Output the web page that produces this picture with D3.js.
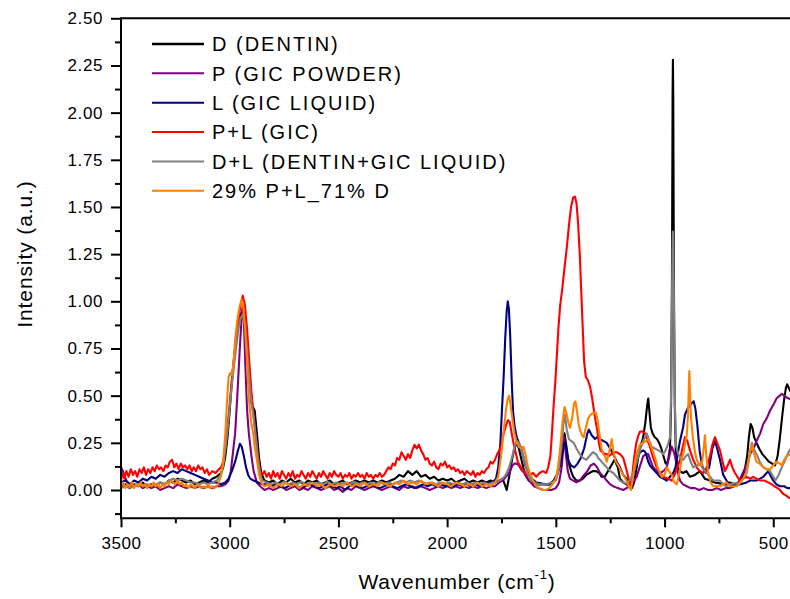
<!DOCTYPE html>
<html>
<head>
<meta charset="utf-8">
<script src="https://cdn.jsdelivr.net/npm/d3@7"></script>
<style>
  body { margin: 0; background: #fff; }
  svg { display: block; font-family: "Liberation Sans", Arial, Helvetica, sans-serif; }
</style>
</head>
<body>
<div id="chart"></div>
<script>
// spectra, [wavenumber (cm-1), intensity (a.u.)]
const dentin = [
  [3500,0.02],[3480,0.03],[3460,0.01],[3440,0.03],[3420,0.02],[3400,0.04],[3380,0.02],[3360,0.03],[3340,0.02],[3320,0.04],
  [3300,0.03],[3280,0.05],[3260,0.04],[3240,0.06],[3220,0.05],[3200,0.04],[3180,0.05],[3160,0.03],[3140,0.04],[3120,0.05],
  [3100,0.04],[3080,0.06],[3060,0.07],[3040,0.09],[3030,0.12],[3020,0.18],[3010,0.28],[3000,0.42],[2990,0.58],[2980,0.70],
  [2970,0.80],[2960,0.88],[2950,0.93],[2940,0.95],[2930,0.90],[2920,0.76],[2910,0.58],[2900,0.46],[2893,0.44],[2885,0.42],
  [2875,0.30],[2865,0.17],[2855,0.09],[2840,0.05],[2820,0.04],[2800,0.05],[2780,0.03],[2760,0.05],[2740,0.04],[2720,0.06],
  [2700,0.04],[2680,0.05],[2660,0.03],[2640,0.05],[2620,0.04],[2600,0.05],[2580,0.03],[2560,0.04],[2540,0.05],[2520,0.03],
  [2500,0.04],[2480,0.05],[2460,0.03],[2440,0.04],[2420,0.05],[2400,0.04],[2380,0.05],[2360,0.04],[2340,0.05],[2320,0.04],
  [2300,0.05],[2280,0.04],[2260,0.05],[2240,0.06],[2220,0.08],[2200,0.07],[2180,0.10],[2160,0.08],[2140,0.10],[2120,0.07],
  [2100,0.08],[2080,0.06],[2060,0.07],[2040,0.05],[2020,0.06],[2000,0.05],[1980,0.06],[1960,0.04],[1940,0.05],[1920,0.06],
  [1900,0.04],[1880,0.05],[1860,0.04],[1840,0.05],[1820,0.04],[1800,0.05],[1780,0.04],[1760,0.05],[1745,0.06],[1735,0.03],
  [1726,0.00],[1718,0.05],[1710,0.10],[1700,0.17],[1690,0.22],[1680,0.25],[1670,0.22],[1660,0.17],[1650,0.12],[1640,0.08],
  [1625,0.05],[1610,0.04],[1590,0.03],[1570,0.03],[1550,0.03],[1530,0.03],[1510,0.05],[1495,0.08],[1480,0.13],[1470,0.22],
  [1460,0.30],[1450,0.22],[1440,0.14],[1430,0.10],[1420,0.07],[1405,0.05],[1390,0.05],[1375,0.06],[1360,0.08],[1345,0.09],
  [1330,0.10],[1315,0.10],[1300,0.09],[1290,0.07],[1275,0.07],[1260,0.10],[1245,0.13],[1230,0.16],[1215,0.12],[1205,0.06],
  [1190,0.04],[1175,0.03],[1160,0.02],[1150,0.01],[1140,0.04],[1128,0.12],[1115,0.22],[1100,0.27],[1088,0.36],[1080,0.45],
  [1075,0.485],[1070,0.42],[1063,0.33],[1055,0.30],[1045,0.28],[1035,0.27],[1025,0.25],[1015,0.22],[1005,0.18],[995,0.14],
  [985,0.15],[975,0.22],[970,0.45],[966,1.10],[963,2.10],[961.5,2.28],[960,2.10],[957,1.10],[953,0.45],[948,0.20],
  [940,0.12],[929,0.10],[915,0.09],[900,0.10],[883,0.07],[860,0.08],[837,0.10],[815,0.06],[791,0.05],[770,0.04],
  [745,0.035],[720,0.03],[700,0.04],[680,0.03],[660,0.04],[645,0.06],[632,0.10],[620,0.18],[612,0.28],[604,0.35],
  [596,0.33],[588,0.28],[577,0.25],[565,0.22],[550,0.19],[535,0.17],[520,0.15],[505,0.14],[492,0.13],[480,0.18],
  [470,0.27],[460,0.38],[450,0.48],[442,0.54],[436,0.56],[428,0.54],[420,0.52]
];

const gicPowder = [
  [3500,0.12],[3495,0.11],[3485,0.08],[3475,0.05],[3460,0.03],[3440,0.02],[3420,0.03],[3400,0.01],[3380,0.02],[3360,0.01],
  [3340,0.02],[3320,0.00],[3300,0.01],[3280,0.02],[3260,0.01],[3240,0.03],[3220,0.02],[3200,0.01],[3180,0.02],[3160,0.01],
  [3140,0.02],[3120,0.01],[3100,0.02],[3080,0.01],[3060,0.02],[3040,0.02],[3020,0.03],[3005,0.05],[2995,0.10],[2985,0.20],
  [2975,0.30],[2965,0.50],[2955,0.72],[2945,0.92],[2941,0.97],[2935,0.90],[2928,0.66],[2920,0.42],[2912,0.30],[2900,0.18],
  [2890,0.10],[2875,0.04],[2860,0.02],[2840,0.00],[2820,0.01],[2800,0.00],[2780,0.01],[2760,0.02],[2740,0.00],[2720,0.01],
  [2700,0.02],[2680,0.00],[2660,0.01],[2640,0.00],[2620,0.02],[2600,0.01],[2580,0.00],[2560,0.01],[2540,0.02],[2520,0.00],
  [2500,0.01],[2480,-0.01],[2460,0.01],[2440,0.00],[2420,0.02],[2400,0.01],[2380,0.00],[2360,0.01],[2340,0.02],[2320,0.01],
  [2300,0.00],[2280,0.01],[2260,0.02],[2240,0.01],[2220,0.00],[2200,0.02],[2180,0.01],[2160,0.02],[2140,0.01],[2120,0.02],
  [2100,0.01],[2080,0.00],[2060,0.01],[2040,0.02],[2020,0.01],[2000,0.02],[1980,0.01],[1960,0.02],[1940,0.01],[1920,0.02],
  [1900,0.01],[1880,0.02],[1860,0.01],[1840,0.02],[1820,0.01],[1800,0.02],[1780,0.02],[1760,0.04],[1745,0.05],[1730,0.07],
  [1715,0.09],[1700,0.13],[1690,0.14],[1680,0.14],[1670,0.13],[1660,0.11],[1645,0.09],[1630,0.06],[1615,0.04],[1600,0.02],
  [1580,0.01],[1560,0.00],[1540,0.00],[1520,0.00],[1500,0.01],[1485,0.04],[1472,0.13],[1462,0.28],[1455,0.20],[1445,0.10],
  [1435,0.06],[1420,0.05],[1405,0.04],[1390,0.05],[1370,0.08],[1355,0.10],[1340,0.13],[1325,0.14],[1310,0.12],[1297,0.09],
  [1280,0.07],[1266,0.05],[1250,0.03],[1236,0.02],[1215,0.01],[1190,0.00],[1175,0.01],[1159,0.02],[1145,0.04],[1128,0.07],
  [1112,0.13],[1098,0.18],[1085,0.19],[1075,0.19],[1063,0.15],[1052,0.12],[1035,0.10],[1021,0.09],[1005,0.10],[990,0.12],
  [978,0.18],[967,0.23],[960,0.21],[952,0.18],[940,0.10],[929,0.05],[915,0.03],[898,0.02],[880,0.01],[860,0.01],
  [840,0.00],[820,0.01],[800,0.00],[780,0.00],[760,0.01],[740,0.00],[720,0.01],[700,0.01],[680,0.02],[660,0.04],
  [640,0.09],[620,0.14],[607,0.19],[590,0.22],[577,0.26],[560,0.30],[546,0.35],[530,0.38],[515,0.42],[500,0.45],
  [485,0.485],[470,0.50],[461,0.51],[450,0.50],[438,0.49],[420,0.48]
];

const gicLiquid = [
  [3500,0.04],[3480,0.05],[3460,0.03],[3440,0.05],[3420,0.04],[3400,0.06],[3380,0.05],[3360,0.07],[3340,0.06],[3320,0.08],
  [3300,0.07],[3280,0.09],[3260,0.10],[3240,0.09],[3220,0.11],[3200,0.10],[3180,0.09],[3160,0.08],[3140,0.07],[3120,0.06],
  [3100,0.05],[3080,0.04],[3060,0.04],[3040,0.03],[3020,0.04],[3005,0.06],[2990,0.10],[2975,0.15],[2962,0.21],[2953,0.245],
  [2945,0.23],[2935,0.18],[2925,0.12],[2915,0.08],[2905,0.06],[2890,0.05],[2870,0.04],[2850,0.03],[2830,0.03],[2810,0.02],
  [2790,0.03],[2770,0.02],[2750,0.01],[2730,0.02],[2710,0.03],[2690,0.02],[2670,0.01],[2650,0.02],[2630,0.03],[2610,0.02],
  [2590,0.01],[2570,0.02],[2550,0.03],[2530,0.02],[2510,0.01],[2490,0.02],[2470,0.00],[2450,0.02],[2430,0.03],[2410,0.02],
  [2390,0.01],[2370,0.02],[2350,0.03],[2330,0.02],[2310,0.01],[2290,0.02],[2270,0.03],[2250,0.02],[2230,0.01],[2210,0.02],
  [2190,0.03],[2170,0.02],[2150,0.01],[2130,0.02],[2110,0.03],[2090,0.02],[2070,0.03],[2050,0.02],[2030,0.03],[2010,0.02],
  [1990,0.03],[1970,0.02],[1950,0.03],[1930,0.02],[1910,0.03],[1890,0.02],[1870,0.03],[1850,0.02],[1830,0.03],[1810,0.04],
  [1790,0.04],[1775,0.06],[1765,0.12],[1755,0.25],[1748,0.42],[1740,0.60],[1733,0.80],[1726,0.95],[1721,1.00],[1716,0.96],
  [1710,0.82],[1703,0.58],[1697,0.42],[1690,0.34],[1680,0.28],[1670,0.25],[1660,0.22],[1650,0.18],[1640,0.13],[1625,0.09],
  [1610,0.06],[1590,0.04],[1570,0.035],[1550,0.03],[1530,0.03],[1515,0.04],[1500,0.06],[1490,0.10],[1475,0.16],[1462,0.25],
  [1455,0.24],[1445,0.16],[1430,0.13],[1415,0.12],[1400,0.14],[1385,0.17],[1370,0.22],[1355,0.30],[1348,0.32],[1335,0.29],
  [1320,0.27],[1310,0.28],[1297,0.27],[1282,0.26],[1266,0.25],[1250,0.22],[1236,0.19],[1220,0.15],[1205,0.12],[1190,0.08],
  [1174,0.06],[1160,0.04],[1150,0.05],[1140,0.11],[1128,0.16],[1113,0.20],[1098,0.21],[1088,0.20],[1075,0.15],[1067,0.13],
  [1052,0.11],[1036,0.09],[1021,0.07],[1005,0.06],[990,0.05],[975,0.07],[960,0.09],[950,0.12],[944,0.16],[929,0.26],
  [915,0.33],[906,0.40],[890,0.44],[875,0.46],[866,0.47],[858,0.43],[848,0.33],[838,0.20],[825,0.12],[810,0.09],
  [795,0.12],[780,0.22],[768,0.26],[758,0.22],[745,0.16],[730,0.08],[715,0.05],[700,0.03],[684,0.02],[668,0.03],
  [653,0.03],[638,0.035],[623,0.04],[607,0.05],[592,0.05],[577,0.05],[561,0.06],[546,0.07],[523,0.10],[510,0.07],
  [500,0.05],[485,0.03],[469,0.02],[450,0.02],[435,0.01],[420,0.01]
];

const gic = [
  [3500,0.05],[3495,0.09],[3485,0.06],[3475,0.10],[3465,0.07],[3455,0.11],[3445,0.08],[3435,0.10],[3425,0.07],[3415,0.11],
  [3405,0.09],[3395,0.12],[3385,0.08],[3375,0.11],[3365,0.09],[3355,0.12],[3345,0.10],[3335,0.13],[3325,0.11],[3315,0.12],
  [3305,0.10],[3295,0.13],[3285,0.12],[3275,0.15],[3265,0.16],[3255,0.12],[3245,0.14],[3235,0.11],[3225,0.14],[3215,0.12],
  [3205,0.13],[3195,0.11],[3185,0.13],[3175,0.10],[3165,0.12],[3155,0.10],[3145,0.13],[3135,0.11],[3125,0.12],[3115,0.09],
  [3105,0.11],[3095,0.08],[3080,0.10],[3065,0.09],[3050,0.11],[3040,0.12],[3030,0.15],[3020,0.22],[3010,0.33],[3000,0.46],
  [2990,0.58],[2980,0.70],[2970,0.80],[2960,0.90],[2950,0.98],[2940,1.03],[2930,0.98],[2920,0.85],[2910,0.68],[2900,0.52],
  [2890,0.40],[2880,0.28],[2870,0.18],[2860,0.10],[2850,0.08],[2840,0.10],[2830,0.07],[2820,0.09],[2810,0.06],[2800,0.10],
  [2790,0.07],[2780,0.09],[2770,0.06],[2760,0.10],[2750,0.08],[2740,0.06],[2730,0.09],[2720,0.07],[2710,0.10],[2700,0.06],
  [2690,0.08],[2680,0.07],[2670,0.10],[2660,0.08],[2650,0.06],[2640,0.09],[2630,0.07],[2620,0.10],[2610,0.08],[2600,0.06],
  [2590,0.09],[2580,0.07],[2570,0.10],[2560,0.08],[2550,0.06],[2540,0.09],[2530,0.07],[2520,0.10],[2510,0.08],[2500,0.07],
  [2490,0.09],[2480,0.06],[2470,0.08],[2460,0.07],[2450,0.09],[2440,0.06],[2430,0.08],[2420,0.07],[2410,0.09],[2400,0.07],
  [2390,0.08],[2380,0.06],[2370,0.09],[2360,0.07],[2350,0.08],[2340,0.06],[2330,0.08],[2320,0.07],[2310,0.09],[2300,0.07],
  [2290,0.08],[2280,0.10],[2270,0.12],[2260,0.11],[2250,0.14],[2240,0.13],[2230,0.17],[2220,0.16],[2210,0.20],[2200,0.18],
  [2190,0.16],[2180,0.19],[2170,0.17],[2160,0.21],[2150,0.24],[2140,0.22],[2130,0.24],[2120,0.21],[2110,0.19],[2100,0.16],
  [2090,0.17],[2080,0.14],[2070,0.13],[2060,0.15],[2050,0.12],[2040,0.11],[2030,0.14],[2020,0.13],[2010,0.15],[2000,0.12],
  [1990,0.13],[1980,0.11],[1970,0.12],[1960,0.10],[1950,0.11],[1940,0.09],[1930,0.10],[1920,0.08],[1910,0.10],[1900,0.09],
  [1890,0.08],[1880,0.10],[1870,0.07],[1860,0.09],[1850,0.08],[1840,0.10],[1830,0.09],[1820,0.11],[1810,0.12],[1800,0.15],
  [1790,0.14],[1780,0.16],[1770,0.19],[1760,0.21],[1750,0.24],[1740,0.30],[1730,0.34],[1720,0.37],[1712,0.36],[1703,0.30],
  [1695,0.25],[1685,0.20],[1675,0.15],[1665,0.13],[1655,0.11],[1645,0.10],[1635,0.08],[1620,0.08],[1605,0.09],[1590,0.07],
  [1575,0.09],[1560,0.10],[1545,0.09],[1535,0.12],[1525,0.18],[1518,0.30],[1510,0.45],[1502,0.58],[1495,0.72],[1488,0.86],
  [1480,0.98],[1470,1.07],[1460,1.18],[1450,1.28],[1440,1.40],[1430,1.50],[1420,1.55],[1412,1.555],[1405,1.52],[1398,1.42],
  [1390,1.25],[1383,1.05],[1376,0.85],[1370,0.68],[1362,0.60],[1352,0.58],[1343,0.55],[1335,0.50],[1327,0.44],[1318,0.37],
  [1310,0.32],[1302,0.25],[1295,0.21],[1285,0.20],[1275,0.19],[1265,0.19],[1255,0.18],[1245,0.19],[1235,0.20],[1220,0.20],
  [1205,0.19],[1190,0.17],[1178,0.12],[1167,0.07],[1158,0.02],[1150,0.06],[1140,0.17],[1130,0.25],[1120,0.29],[1113,0.31],
  [1100,0.31],[1090,0.30],[1078,0.26],[1067,0.23],[1052,0.17],[1036,0.12],[1020,0.09],[1006,0.07],[985,0.06],[967,0.05],
  [950,0.09],[935,0.14],[929,0.16],[918,0.22],[906,0.28],[895,0.26],[883,0.21],[868,0.16],[852,0.12],[838,0.10],
  [822,0.09],[806,0.12],[791,0.18],[780,0.24],[768,0.28],[758,0.25],[745,0.21],[733,0.15],[722,0.10],[710,0.13],
  [699,0.16],[688,0.12],[676,0.09],[665,0.07],[653,0.05],[638,0.06],[623,0.07],[607,0.06],[592,0.07],[577,0.06],
  [561,0.05],[540,0.05],[515,0.035],[495,0.02],[480,0.01],[469,0.00],[455,-0.02],[440,-0.03],[430,-0.04],[420,-0.045]
];

const dentinLiquid = [
  [3500,0.01],[3480,0.02],[3460,0.01],[3440,0.02],[3420,0.03],[3400,0.02],[3380,0.03],[3360,0.02],[3340,0.03],[3320,0.04],
  [3300,0.03],[3280,0.05],[3260,0.06],[3240,0.05],[3220,0.06],[3200,0.05],[3180,0.04],[3160,0.04],[3140,0.03],[3120,0.04],
  [3100,0.03],[3080,0.04],[3060,0.05],[3040,0.08],[3030,0.13],[3020,0.22],[3010,0.32],[3000,0.44],[2990,0.56],[2980,0.66],
  [2970,0.76],[2960,0.85],[2950,0.91],[2940,0.93],[2930,0.88],[2920,0.74],[2910,0.58],[2900,0.46],[2890,0.38],[2880,0.28],
  [2870,0.16],[2860,0.08],[2850,0.05],[2830,0.04],[2810,0.03],[2790,0.04],[2770,0.03],[2750,0.045],[2730,0.03],[2710,0.04],
  [2690,0.03],[2670,0.045],[2650,0.03],[2630,0.04],[2610,0.03],[2590,0.04],[2570,0.03],[2550,0.045],[2530,0.03],[2510,0.04],
  [2490,0.03],[2470,0.04],[2450,0.03],[2430,0.045],[2410,0.03],[2390,0.04],[2370,0.03],[2350,0.04],[2330,0.03],[2310,0.045],
  [2290,0.03],[2270,0.04],[2250,0.03],[2230,0.04],[2210,0.05],[2190,0.04],[2170,0.05],[2150,0.04],[2130,0.05],[2110,0.04],
  [2090,0.03],[2070,0.04],[2050,0.03],[2030,0.04],[2010,0.03],[1990,0.04],[1970,0.03],[1950,0.04],[1930,0.03],[1910,0.04],
  [1890,0.03],[1870,0.04],[1850,0.03],[1830,0.04],[1810,0.03],[1790,0.04],[1775,0.04],[1760,0.05],[1745,0.06],[1730,0.08],
  [1715,0.12],[1700,0.18],[1690,0.23],[1680,0.26],[1670,0.25],[1660,0.22],[1650,0.18],[1640,0.14],[1630,0.09],[1615,0.05],
  [1600,0.04],[1580,0.03],[1560,0.03],[1540,0.03],[1520,0.04],[1500,0.05],[1488,0.10],[1475,0.22],[1465,0.35],[1458,0.40],
  [1450,0.32],[1440,0.27],[1430,0.26],[1418,0.25],[1405,0.22],[1390,0.19],[1375,0.17],[1360,0.16],[1345,0.18],[1330,0.20],
  [1315,0.19],[1305,0.17],[1297,0.16],[1282,0.14],[1266,0.12],[1250,0.10],[1236,0.09],[1220,0.07],[1205,0.05],[1190,0.04],
  [1174,0.035],[1160,0.05],[1144,0.09],[1128,0.15],[1113,0.21],[1098,0.26],[1082,0.30],[1070,0.26],[1059,0.23],[1045,0.22],
  [1028,0.21],[1015,0.20],[1006,0.19],[995,0.21],[985,0.24],[975,0.28],[970,0.50],[966,1.00],[963,1.30],[961.5,1.37],
  [960,1.30],[957,1.00],[953,0.50],[948,0.24],[937,0.19],[925,0.17],[914,0.16],[902,0.18],[891,0.19],[880,0.15],
  [868,0.12],[852,0.13],[837,0.14],[822,0.11],[806,0.09],[790,0.07],[776,0.05],[760,0.05],[745,0.05],[730,0.03],
  [715,0.02],[700,0.03],[684,0.035],[668,0.035],[653,0.035],[638,0.06],[623,0.09],[612,0.16],[604,0.22],[598,0.25],
  [590,0.22],[577,0.19],[562,0.15],[546,0.12],[530,0.11],[515,0.10],[500,0.07],[490,0.05],[475,0.08],[461,0.12],
  [445,0.16],[430,0.20],[420,0.22]
];

const mix = [
  [3500,0.02],[3490,0.04],[3480,0.01],[3470,0.03],[3460,0.02],[3450,0.04],[3440,0.01],[3430,0.03],[3420,0.02],[3410,0.04],
  [3400,0.02],[3390,0.03],[3380,0.01],[3370,0.03],[3360,0.02],[3350,0.04],[3340,0.02],[3330,0.03],[3320,0.01],[3310,0.03],
  [3300,0.02],[3290,0.04],[3280,0.03],[3270,0.05],[3260,0.04],[3250,0.03],[3240,0.05],[3230,0.03],[3220,0.04],[3210,0.02],
  [3200,0.03],[3190,0.01],[3180,0.03],[3170,0.02],[3160,0.01],[3150,0.03],[3140,0.02],[3130,0.01],[3120,0.02],[3110,0.01],
  [3100,0.03],[3090,0.01],[3080,0.02],[3070,0.01],[3060,0.02],[3050,0.04],[3040,0.08],[3030,0.15],[3020,0.30],[3012,0.48],
  [3005,0.60],[2998,0.62],[2990,0.61],[2982,0.68],[2975,0.80],[2965,0.90],[2955,0.97],[2945,1.01],[2938,0.98],[2930,0.86],
  [2922,0.72],[2915,0.55],[2910,0.46],[2905,0.40],[2900,0.35],[2892,0.30],[2885,0.23],[2875,0.16],[2865,0.08],[2855,0.04],
  [2840,0.02],[2820,0.03],[2800,0.01],[2780,0.03],[2760,0.02],[2740,0.04],[2720,0.02],[2700,0.03],[2680,0.01],[2660,0.03],
  [2640,0.02],[2620,0.04],[2600,0.02],[2580,0.03],[2560,0.01],[2540,0.03],[2520,0.02],[2500,0.03],[2480,0.02],[2460,0.04],
  [2440,0.02],[2420,0.03],[2400,0.02],[2380,0.04],[2360,0.02],[2340,0.03],[2320,0.02],[2300,0.04],[2280,0.03],[2260,0.02],
  [2240,0.04],[2220,0.03],[2200,0.05],[2180,0.03],[2160,0.04],[2140,0.03],[2120,0.05],[2100,0.03],[2080,0.04],[2060,0.03],
  [2040,0.02],[2020,0.04],[2000,0.03],[1980,0.02],[1960,0.04],[1940,0.03],[1920,0.02],[1900,0.03],[1880,0.02],[1860,0.04],
  [1840,0.02],[1820,0.03],[1800,0.02],[1780,0.04],[1765,0.07],[1750,0.20],[1740,0.31],[1730,0.42],[1722,0.48],[1715,0.50],
  [1708,0.45],[1700,0.38],[1690,0.30],[1680,0.25],[1670,0.23],[1660,0.22],[1650,0.23],[1640,0.19],[1630,0.13],[1620,0.09],
  [1605,0.05],[1590,0.02],[1575,0.01],[1560,0.00],[1545,0.00],[1530,0.01],[1515,0.03],[1500,0.06],[1490,0.12],[1480,0.22],
  [1470,0.35],[1460,0.44],[1452,0.41],[1443,0.36],[1435,0.33],[1425,0.38],[1416,0.46],[1410,0.47],[1403,0.42],[1395,0.35],
  [1389,0.32],[1380,0.29],[1372,0.28],[1362,0.33],[1351,0.38],[1340,0.40],[1327,0.41],[1316,0.41],[1308,0.37],[1300,0.30],
  [1290,0.22],[1282,0.19],[1274,0.18],[1266,0.15],[1255,0.20],[1243,0.27],[1236,0.21],[1225,0.15],[1213,0.13],[1200,0.10],
  [1190,0.08],[1175,0.05],[1165,0.02],[1155,0.00],[1145,0.07],[1135,0.16],[1128,0.19],[1113,0.24],[1098,0.25],[1085,0.26],
  [1075,0.27],[1065,0.24],[1052,0.20],[1044,0.17],[1029,0.11],[1013,0.07],[1000,0.08],[990,0.12],[980,0.10],[967,0.08],
  [955,0.04],[944,0.03],[930,0.10],[921,0.17],[914,0.19],[905,0.25],[898,0.29],[892,0.40],[888,0.56],[886,0.63],
  [883,0.52],[878,0.38],[870,0.28],[860,0.20],[852,0.16],[840,0.13],[829,0.13],[820,0.22],[814,0.29],[808,0.18],
  [799,0.09],[788,0.04],[776,0.02],[760,0.02],[745,0.02],[730,0.03],[715,0.04],[700,0.02],[684,0.02],[668,0.02],
  [653,0.04],[638,0.06],[623,0.10],[612,0.17],[604,0.22],[598,0.24],[590,0.20],[577,0.15],[562,0.14],[546,0.12],
  [530,0.11],[515,0.11],[500,0.13],[485,0.15],[470,0.14],[461,0.13],[450,0.16],[438,0.18],[420,0.19]
];

const seriesNames = ['D (DENTIN)', 'P (GIC POWDER)', 'L (GIC LIQUID)', 'P+L (GIC)',
  'D+L (DENTIN+GIC LIQUID)', '29% P+L_71% D'];
const seriesData = [dentin, gicPowder, gicLiquid, gic, dentinLiquid, mix];
const seriesColors = ['#000000', '#800080', '#000080', '#ff0000', '#808080', '#ff8000'];

const xMajorTicks = [3500, 3000, 2500, 2000, 1500, 1000, 500];
const xMinorTicks = [3250, 2750, 2250, 1750, 1250, 750];
const yMajorTicks = [0, 0.25, 0.5, 0.75, 1, 1.25, 1.5, 1.75, 2, 2.25, 2.5];
const yMinorTicks = [-0.125, 0.125, 0.375, 0.625, 0.875, 1.125, 1.375, 1.625, 1.875, 2.125, 2.375];

const width = 790, height = 599;
const plotLeft = 121, plotTop = 18.3, plotBottom = 518.3, plotRight = 795;

const svg = d3.select('#chart').append('svg')
  .attr('width', width)
  .attr('height', height);

const x = d3.scaleLinear().domain([3500, 400]).range([plotLeft, plotRight]);
const y = d3.scaleLinear().domain([-0.15, 2.5]).range([plotBottom, plotTop]);

svg.append('clipPath').attr('id', 'plot-clip')
  .append('rect')
  .attr('x', plotLeft).attr('y', plotTop - 2)
  .attr('width', plotRight - plotLeft).attr('height', plotBottom - plotTop + 2);

// spectra, drawn in legend order so the mix ends up on top
const line = d3.line()
  .x(d => x(d[0]))
  .y(d => y(d[1]));

svg.append('g')
  .attr('clip-path', 'url(#plot-clip)')
  .selectAll('path')
  .data(seriesData)
  .enter()
  .append('path')
  .attr('d', line)
  .attr('fill', 'none')
  .attr('stroke', (d, i) => seriesColors[i])
  .attr('stroke-width', 2.1)
  .attr('stroke-linejoin', 'round');

// axes
const fmt = d3.format('.2f');

svg.append('g')
  .attr('transform', `translate(${plotLeft},0)`)
  .call(d3.axisLeft(y).tickValues(yMajorTicks).tickFormat(fmt).tickSize(10).tickPadding(8));
svg.append('g')
  .attr('transform', `translate(${plotLeft},0)`)
  .call(d3.axisLeft(y).tickValues(yMinorTicks).tickFormat('').tickSize(6));

svg.append('g')
  .attr('transform', `translate(0,${plotBottom})`)
  .call(d3.axisBottom(x).tickValues(xMajorTicks).tickFormat(d3.format('d')).tickSize(9).tickPadding(10));
svg.append('g')
  .attr('transform', `translate(0,${plotBottom})`)
  .call(d3.axisBottom(x).tickValues(xMinorTicks).tickFormat('').tickSize(5));

svg.selectAll('.domain').remove();
svg.selectAll('.tick line').attr('stroke', '#000').attr('stroke-width', 2);
svg.selectAll('.tick text')
  .attr('font-family', '"Liberation Sans", Arial, sans-serif')
  .attr('font-size', 17)
  .attr('letter-spacing', 0.6)
  .attr('fill', '#000');

// frame (right side lies outside the window)
svg.append('path')
  .attr('d', `M${plotRight + 20},${plotTop}H${plotLeft}V${plotBottom}H${plotRight + 20}`)
  .attr('stroke', '#000')
  .attr('stroke-width', 2)
  .attr('fill', 'none');

// axis titles
svg.append('text')
  .attr('x', 457)
  .attr('y', 589)
  .attr('text-anchor', 'middle')
  .attr('font-size', 21)
  .attr('letter-spacing', 0.8)
  .call(t => {
    t.append('tspan').text('Wavenumber (cm');
    t.append('tspan').attr('font-size', 13).attr('dy', -10).text('-1');
    t.append('tspan').attr('dy', 10).text(')');
  });

svg.append('text')
  .attr('transform', 'rotate(-90)')
  .attr('x', -254)
  .attr('y', 32)
  .attr('text-anchor', 'middle')
  .attr('font-size', 21)
  .attr('letter-spacing', 0.9)
  .text('Intensity (a.u.)');

// legend
const legend = svg.append('g');
seriesNames.forEach((name, i) => {
  const ly = 44 + i * 29.35;
  legend.append('line')
    .attr('x1', 152).attr('x2', 204)
    .attr('y1', ly).attr('y2', ly)
    .attr('stroke', seriesColors[i])
    .attr('stroke-width', i === 0 ? 2.6 : 2);
  legend.append('text')
    .attr('x', 212)
    .attr('y', ly)
    .attr('dy', '0.36em')
    .attr('font-size', 20)
    .attr('letter-spacing', 2)
    .text(name);
});
</script>
</body>
</html>
